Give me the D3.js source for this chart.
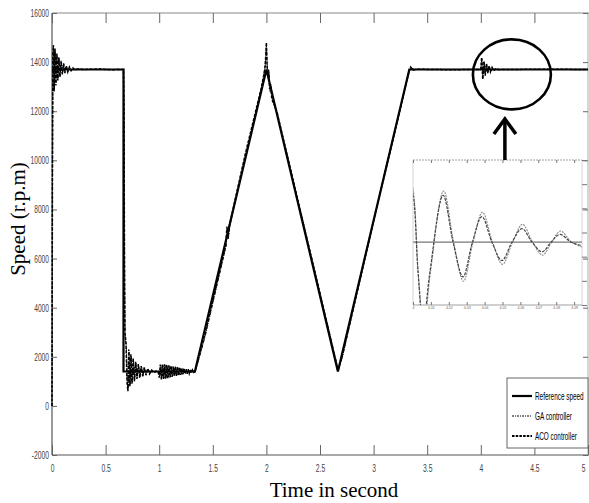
<!DOCTYPE html>
<html><head><meta charset="utf-8">
<script src="https://cdn.jsdelivr.net/npm/d3@7"></script>
<style>html,body{margin:0;padding:0;background:#fff;} svg{display:block}</style>
</head><body><svg id="c" width="589" height="503"></svg>
<script>
// ---------------- data ----------------
const xTicks = [0, 0.5, 1, 1.5, 2, 2.5, 3, 3.5, 4, 4.5, 5];
const xTickLabels = ["0", "0.5", "1", "1.5", "2", "2.5", "3", "3.5", "4", "4.5", "5"];
const yTicks = [-2000, 0, 2000, 4000, 6000, 8000, 10000, 12000, 14000, 16000];
const yTickLabels = ["-2000", "0", "2000", "4000", "6000", "8000", "10000", "12000", "14000", "16000"];

const seriesNames = ["Reference speed", "GA controller", "ACO controller"];

// reference speed profile (time s, speed rpm)
const refTime  = [0, 0.667, 0.667, 1.333, 2.0, 2.667, 3.333, 5.0];
const refSpeed = [13700, 13700, 1400, 1400, 13700, 1400, 13700, 13700];

// ACO controller response [t, rpm]
const acoResponse = [
 [0,0],[0.004,9000],[0.008,14300],[0.013,14700],[0.02,12800],[0.028,14550],[0.036,13050],[0.045,14350],
 [0.054,13250],[0.064,14200],[0.074,13400],[0.085,14050],[0.096,13500],[0.108,13950],[0.12,13550],
 [0.133,13850],[0.147,13600],[0.162,13800],[0.178,13650],[0.195,13760],[0.215,13680],[0.24,13720],
 [0.3,13700],[0.45,13720],[0.55,13690],[0.667,13700],
 [0.672,12000],[0.676,6000],[0.68,3000],[0.69,2600],[0.7,1000],[0.708,600],[0.716,2300],[0.726,800],
 [0.736,2100],[0.746,900],[0.757,1950],[0.768,1000],[0.78,1800],[0.792,1100],[0.805,1700],[0.818,1150],
 [0.832,1620],[0.846,1200],[0.86,1570],[0.876,1250],[0.893,1520],[0.91,1300],[0.93,1460],[0.95,1350],
 [0.97,1420],[0.99,1390],
 [1.0,1150],[1.01,1680],[1.02,1080],[1.03,1700],[1.04,1100],[1.05,1690],[1.06,1110],[1.07,1670],
 [1.08,1130],[1.09,1650],[1.1,1160],[1.11,1630],[1.12,1180],[1.13,1610],[1.14,1200],[1.15,1600],
 [1.16,1220],[1.17,1580],[1.18,1240],[1.19,1560],[1.2,1260],[1.21,1540],[1.22,1280],[1.23,1520],
 [1.24,1300],[1.25,1500],[1.26,1310],[1.27,1490],[1.28,1320],[1.29,1480],[1.3,1340],[1.31,1460],
 [1.32,1360],[1.335,1400],
 [1.42,2800],[1.62,6500],[1.632,7300],[1.642,6800],[1.655,7350],[1.8,10200],[1.95,12900],[1.985,13700],
 [1.995,14300],[2.0,14800],[2.006,13900],[2.012,13500],[2.02,13700],[2.03,12900],[2.04,13100],
 [2.05,12500],[2.07,12300],[2.1,11950],[2.4,6400],[2.667,1450],[2.7,1900],[3.0,7550],[3.33,13600],
 [3.345,13800],[3.37,13680],[3.4,13710],[3.7,13690],[4.0,13700],
 [4.008,14200],[4.018,13300],[4.03,14050],[4.041,13450],[4.053,13950],[4.064,13550],[4.077,13850],
 [4.09,13600],[4.105,13780],[4.12,13650],[4.14,13730],[4.17,13690],[4.2,13700],[4.6,13710],[5.0,13700]
];

// GA controller response [t, rpm]
const gaResponse = [
 [0,0],[0.004,8500],[0.009,14200],[0.014,14600],[0.021,12900],[0.029,14450],[0.037,13150],[0.046,14300],
 [0.055,13300],[0.065,14150],[0.075,13420],[0.086,14000],[0.097,13520],[0.109,13920],[0.121,13570],
 [0.134,13830],[0.148,13610],[0.163,13790],[0.179,13660],[0.196,13750],[0.216,13685],[0.24,13715],
 [0.3,13700],[0.667,13700],
 [0.673,11500],[0.678,5000],[0.683,2800],[0.693,2400],[0.702,900],[0.711,700],[0.719,2200],[0.729,850],
 [0.739,2000],[0.749,950],[0.76,1900],[0.771,1050],[0.783,1750],[0.795,1120],[0.808,1680],[0.821,1180],
 [0.835,1600],[0.849,1220],[0.864,1550],[0.88,1270],[0.897,1500],[0.915,1320],[0.935,1450],[0.955,1360],
 [0.975,1410],[0.995,1380],
 [1.005,1200],[1.015,1640],[1.025,1120],[1.035,1660],[1.045,1130],[1.055,1650],[1.065,1150],[1.075,1630],
 [1.085,1170],[1.095,1620],[1.105,1190],[1.115,1600],[1.125,1210],[1.135,1590],[1.145,1230],[1.155,1570],
 [1.165,1250],[1.175,1550],[1.185,1270],[1.195,1530],[1.205,1290],[1.215,1510],[1.225,1300],[1.235,1500],
 [1.245,1320],[1.255,1480],[1.265,1330],[1.275,1470],[1.285,1340],[1.295,1460],[1.305,1360],[1.315,1440],
 [1.325,1380],[1.338,1400],
 [1.43,2850],[1.625,6550],[1.636,7250],[1.646,6850],[1.66,7350],[1.81,10300],[1.96,13000],[1.99,13900],
 [2.0,14700],[2.008,13800],[2.015,13400],[2.025,13600],[2.035,12800],[2.045,13000],[2.06,12400],
 [2.1,11900],[2.4,6450],[2.67,1500],[2.71,2000],[3.0,7500],[3.335,13650],[3.35,13780],[3.38,13690],
 [3.4,13705],[4.0,13700],
 [4.01,14150],[4.02,13350],[4.032,14000],[4.043,13500],[4.055,13900],[4.067,13580],[4.08,13820],
 [4.093,13620],[4.108,13760],[4.124,13660],[4.145,13720],[4.175,13695],[4.2,13700],[5.0,13700]
];

// zoomed inset around t = 4.0 s
const insetXTicks = [4.0, 4.01, 4.02, 4.03, 4.04, 4.05, 4.06, 4.07, 4.08, 4.09];
const insetXTickLabels = ["4", "4.01", "4.02", "4.03", "4.04", "4.05", "4.06", "4.07", "4.08", "4.09"];
const insetYTicks = [13570, 13620, 13670, 13720, 13770, 13820, 13870];
const insetRef = 13700;
const insetAco = [
 [3.997,13840],[4.0,13800],[4.0028,13640],[4.0057,13530],[4.0095,13640],[4.0168,13797],[4.0224,13700],
 [4.0279,13628],[4.0332,13700],[4.0385,13753],[4.0441,13700],[4.0497,13662],[4.0553,13700],
 [4.0609,13728],[4.0665,13700],[4.0721,13680],[4.0771,13700],[4.0821,13716],[4.0883,13700],[4.0944,13693]
];
const insetGa = [
 [3.997,13850],[4.0,13810],[4.003,13630],[4.006,13520],[4.0098,13640],[4.0171,13806],[4.0227,13700],
 [4.0282,13619],[4.0335,13700],[4.0388,13762],[4.0444,13700],[4.05,13654],[4.0556,13700],
 [4.0612,13737],[4.0668,13700],[4.0724,13673],[4.0774,13700],[4.0824,13723],[4.0886,13700],[4.0944,13690]
];

// ---------------- drawing ----------------
const svg = d3.select("#c");
const W = 589, H = 503;
const M = {left: 52, right: 588, top: 13, bottom: 455};
const x = d3.scaleLinear().domain([0, 5]).range([M.left, M.right]);
const y = d3.scaleLinear().domain([-2000, 16000]).range([M.bottom, M.top]);

const tickFont = "'Liberation Sans',Arial,sans-serif";
const frameCol = "#666";
// condensed label width estimate (the original uses a very narrow font)
const narrowLen = s => Array.from(s).reduce((a, c) => a + (c === "." ? 2 : (c === "-" ? 2.5 : 3.7)), 0);

svg.append("rect").attr("width", W).attr("height", H).attr("fill", "#fff");

// frame
const frame = svg.append("g");
frame.append("line").attr("x1", M.left).attr("x2", M.left).attr("y1", M.top).attr("y2", M.bottom).attr("stroke", "#555").attr("stroke-width", 1.2);
frame.append("line").attr("x1", M.left).attr("x2", W).attr("y1", M.bottom).attr("y2", M.bottom).attr("stroke", "#555").attr("stroke-width", 1.2);
frame.append("line").attr("x1", M.left).attr("x2", W).attr("y1", M.top).attr("y2", M.top).attr("stroke", "#888").attr("stroke-width", 1);
frame.append("line").attr("x1", M.right).attr("x2", M.right).attr("y1", M.top).attr("y2", M.bottom).attr("stroke", "#999").attr("stroke-width", 0.8);

// x axis ticks (inward, bottom and top)
const lastX = xTicks[xTicks.length - 1];
const xa = d3.axisBottom(x).tickValues(xTicks).tickSize(-10).tickPadding(8)
  .tickFormat((d, i) => xTickLabels[i]);
const gx = svg.append("g").attr("transform", `translate(0,${M.bottom})`).call(xa);
gx.select(".domain").remove();
gx.selectAll(".tick line").attr("stroke", frameCol);
gx.selectAll(".tick text").attr("font-family", tickFont).attr("font-size", 11).attr("fill", "#444")
  .attr("dy", "0")
  .attr("y", 17)
  .attr("textLength", d => narrowLen(xTickLabels[xTicks.indexOf(d)]))
  .attr("lengthAdjust", "spacingAndGlyphs")
  .attr("text-anchor", d => d === lastX ? "end" : "middle")
  .attr("x", d => d === lastX ? -3 : null);
const gxt = svg.append("g").attr("transform", `translate(0,${M.top})`)
  .call(d3.axisTop(x).tickValues(xTicks.slice(0, 10)).tickSize(-10).tickFormat(""));
gxt.select(".domain").remove();
gxt.selectAll(".tick line").attr("stroke", frameCol);

// y axis (inward ticks left and right)
const ya = d3.axisLeft(y).tickValues(yTicks).tickSize(-5).tickPadding(3)
  .tickFormat((d, i) => yTickLabels[i]);
const gy = svg.append("g").attr("transform", `translate(${M.left},0)`).call(ya);
gy.select(".domain").remove();
gy.selectAll(".tick line").attr("stroke", frameCol);
gy.selectAll(".tick text").attr("font-family", tickFont).attr("font-size", 11).attr("fill", "#444")
  .attr("x", -3)
  .attr("textLength", d => narrowLen(yTickLabels[yTicks.indexOf(d)]))
  .attr("lengthAdjust", "spacingAndGlyphs");
const gyr = svg.append("g").attr("transform", `translate(${M.right},0)`)
  .call(d3.axisRight(y).tickValues(yTicks).tickSize(-5).tickFormat(""));
gyr.select(".domain").remove();
gyr.selectAll(".tick line").attr("stroke", frameCol);

// axis titles
svg.append("text").attr("transform", `translate(25,219) rotate(-90)`)
  .attr("text-anchor", "middle").attr("font-family", "'Liberation Serif','Times New Roman',serif")
  .attr("font-size", 21).attr("fill", "#000").text("Speed (r.p.m)");
svg.append("text").attr("x", 334).attr("y", 497)
  .attr("text-anchor", "middle").attr("font-family", "'Liberation Serif','Times New Roman',serif")
  .attr("font-size", 21).attr("fill", "#000").text("Time in second");

// main lines
const lineXY = d3.line().x(d => x(d[0])).y(d => y(d[1]));
const refData = refTime.map((t, i) => [t, refSpeed[i]]);
svg.append("path").datum(refData).attr("d", lineXY).attr("fill", "none")
  .attr("stroke", "#000").attr("stroke-width", 2.2);
svg.append("path").datum(gaResponse).attr("d", lineXY).attr("fill", "none")
  .attr("stroke", "#111").attr("stroke-width", 1).attr("stroke-dasharray", "4,1,1,1");
svg.append("path").datum(acoResponse).attr("d", lineXY).attr("fill", "none")
  .attr("stroke", "#000").attr("stroke-width", 1.5).attr("stroke-dasharray", "3,1.5");

// circle annotation
svg.append("ellipse").attr("cx", x(4.29)).attr("cy", y(13500)).attr("rx", 39).attr("ry", 35)
  .attr("fill", "none").attr("stroke", "#000").attr("stroke-width", 2.6);

// inset
const IN = {left: 413, right: 582, top: 160, bottom: 305};
const ix = d3.scaleLinear().domain([4.0, 4.0944]).range([IN.left, IN.right]);
const iy = d3.scaleLinear().domain([13570, 13870]).range([IN.bottom, IN.top]);
const ig = svg.append("g");
ig.append("rect").attr("x", IN.left).attr("y", IN.top).attr("width", IN.right - IN.left)
  .attr("height", IN.bottom - IN.top).attr("fill", "#fff").attr("stroke", "none");
svg.append("defs").append("clipPath").attr("id", "insetClip").append("rect")
  .attr("x", IN.left).attr("y", IN.top).attr("width", IN.right - IN.left).attr("height", IN.bottom - IN.top);

// arrow from inset to circle
const ax = x(4.29) - 7;
svg.append("line").attr("x1", ax).attr("x2", ax).attr("y1", IN.top).attr("y2", 119)
  .attr("stroke", "#000").attr("stroke-width", 3.5);
svg.append("path").attr("d", `M${ax - 11},134 L${ax},119 L${ax + 11},134`)
  .attr("fill", "none").attr("stroke", "#000").attr("stroke-width", 3.5);

const igl = ig.append("g").attr("clip-path", "url(#insetClip)");
const iline = d3.line().x(d => ix(d[0])).y(d => iy(d[1])).curve(d3.curveCatmullRom.alpha(0.5));
igl.append("line").attr("x1", IN.left).attr("x2", IN.right).attr("y1", iy(insetRef)).attr("y2", iy(insetRef))
  .attr("stroke", "#777").attr("stroke-width", 1.3);
igl.append("path").datum(insetGa).attr("d", iline).attr("fill", "none")
  .attr("stroke", "#888").attr("stroke-width", 1.1).attr("stroke-dasharray", "2,1");
igl.append("path").datum(insetAco).attr("d", iline).attr("fill", "none")
  .attr("stroke", "#444").attr("stroke-width", 1.2).attr("stroke-dasharray", "3,1.2");

// inset frame
ig.append("line").attr("x1", IN.left).attr("x2", IN.right).attr("y1", IN.top).attr("y2", IN.top)
  .attr("stroke", "#888").attr("stroke-width", 0.8).attr("stroke-dasharray", "2,1");
ig.append("line").attr("x1", IN.left).attr("x2", IN.right).attr("y1", IN.bottom).attr("y2", IN.bottom)
  .attr("stroke", "#888").attr("stroke-width", 0.8);
ig.append("line").attr("x1", IN.left).attr("x2", IN.left).attr("y1", IN.top).attr("y2", IN.bottom)
  .attr("stroke", "#bbb").attr("stroke-width", 0.6);
ig.append("line").attr("x1", IN.right).attr("x2", IN.right).attr("y1", IN.top).attr("y2", IN.bottom)
  .attr("stroke", "#bbb").attr("stroke-width", 0.6);
const igx = ig.append("g").attr("transform", `translate(0,${IN.bottom})`)
  .call(d3.axisBottom(ix).tickValues(insetXTicks).tickSize(-3).tickPadding(2).tickFormat((d, i) => insetXTickLabels[i]));
igx.select(".domain").remove();
igx.selectAll(".tick line").attr("stroke", "#777");
igx.selectAll(".tick text").attr("font-family", tickFont).attr("font-size", 3.5).attr("fill", "#666");
const igxt = ig.append("g").attr("transform", `translate(0,${IN.top})`)
  .call(d3.axisTop(ix).tickValues(insetXTicks).tickSize(-3).tickFormat(""));
igxt.select(".domain").remove();
igxt.selectAll(".tick line").attr("stroke", "#777");
const igy = ig.append("g").attr("transform", `translate(${IN.right},0)`)
  .call(d3.axisRight(iy).tickValues(insetYTicks).tickSize(5).tickFormat(""));
igy.select(".domain").remove();
igy.selectAll(".tick line").attr("stroke", "#777");

// legend
const lg = svg.append("g");
lg.append("rect").attr("x", 507).attr("y", 378).attr("width", 81).attr("height", 70)
  .attr("fill", "#fff").attr("stroke", "#666").attr("stroke-width", 1);
const legStyles = [
  {w: 2.2, dash: null},
  {w: 1, dash: "2,1,1,1"},
  {w: 2, dash: "2.5,1.2"}
];
seriesNames.forEach((name, i) => {
  const ly = 396 + i * 20;
  const l = lg.append("line").attr("x1", 512).attr("x2", 532).attr("y1", ly).attr("y2", ly)
    .attr("stroke", "#000").attr("stroke-width", legStyles[i].w);
  if (legStyles[i].dash) l.attr("stroke-dasharray", legStyles[i].dash);
  lg.append("text").attr("transform", `translate(535,${ly + 3.5}) scale(0.64,1)`)
    .attr("font-family", tickFont).attr("font-size", 10).attr("fill", "#000").text(name);
});
</script>
</body></html>
